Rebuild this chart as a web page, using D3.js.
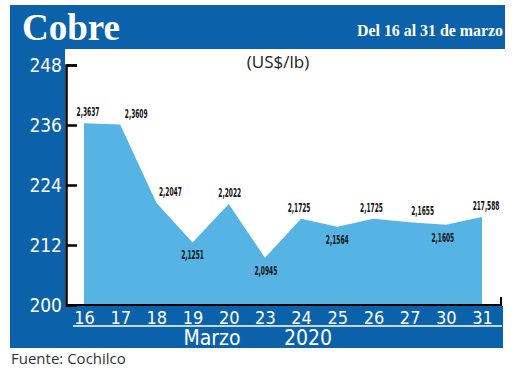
<!DOCTYPE html>
<html>
<head>
<meta charset="utf-8">
<script src="https://cdn.jsdelivr.net/npm/d3@7"></script>
<style>
  body { margin: 0; background: #fff; }
  svg { display: block; }
</style>
</head>
<body>
<div id="chart"></div>
<script>
var days = ['16', '17', '18', '19', '20', '23', '24', '25', '26', '27', '30', '31'];
var prices = [236.37, 236.09, 220.47, 212.51, 220.22, 209.45, 217.25, 215.64, 217.25, 216.55, 216.05, 217.588];
var priceLabels = ['2,3637', '2,3609', '2,2047', '2,1251', '2,2022', '2,0945', '2,1725', '2,1564', '2,1725', '2,1655', '2,1605', '217,588'];
var yTicks = [200, 212, 224, 236, 248];

var chartWidth = 520;
var chartHeight = 371;
var darkBlue = '#0b62aa';
var lightBlue = '#56b4e4';
var narrow = '"DejaVu Sans Condensed", sans-serif';

var svg = d3.select('#chart')
    .append('svg')
    .attr('width', chartWidth)
    .attr('height', chartHeight);

// Blue frame: header, left column, bottom band
svg.append('rect').attr('x', 10).attr('y', 5).attr('width', 495).attr('height', 44).attr('fill', darkBlue);
svg.append('rect').attr('x', 10).attr('y', 5).attr('width', 55).attr('height', 343).attr('fill', darkBlue);
svg.append('rect').attr('x', 10).attr('y', 306).attr('width', 493).attr('height', 42).attr('fill', darkBlue);

svg.append('text')
    .text('Cobre')
    .attr('x', 22).attr('y', 40)
    .attr('font-family', '"Liberation Serif", serif')
    .attr('font-weight', 'bold')
    .attr('font-size', 37)
    .attr('fill', '#fff');

svg.append('text')
    .text('Del 16 al 31 de marzo')
    .attr('x', 503).attr('y', 36)
    .attr('text-anchor', 'end')
    .attr('font-family', '"Liberation Serif", serif')
    .attr('font-weight', 'bold')
    .attr('font-size', 16)
    .attr('textLength', 146)
    .attr('lengthAdjust', 'spacingAndGlyphs')
    .attr('fill', '#fff');

svg.append('text')
    .text('(US$/lb)')
    .attr('x', 278).attr('y', 68)
    .attr('text-anchor', 'middle')
    .attr('font-family', '"Open Sans", sans-serif')
    .attr('font-size', 17)
    .attr('fill', '#222');

// Scales
var scaleX = d3.scalePoint()
    .domain(days)
    .range([84, 482]);

var scaleY = d3.scaleLinear()
    .domain([200, 248])
    .range([305, 65]);

// Area
var area = d3.area()
    .x(function(d, i) { return scaleX(days[i]); })
    .y0(scaleY(200))
    .y1(function(d) { return scaleY(d); });

svg.append('path')
    .datum(prices)
    .attr('d', area)
    .attr('fill', lightBlue);

// Y axis
var yAxis = svg.append('g')
    .attr('transform', 'translate(66,0)')
    .call(d3.axisLeft(scaleY).tickValues(yTicks).tickSize(-11).tickPadding(4));
yAxis.select('.domain').attr('stroke', '#000').attr('stroke-width', 2.5);
yAxis.selectAll('.tick line').attr('stroke', '#000').attr('stroke-width', 2.5);
yAxis.selectAll('.tick text')
    .attr('fill', '#fff')
    .attr('font-family', narrow)
    .attr('font-size', 19);

// X axis line with end tick
svg.append('path')
    .attr('d', 'M66,' + scaleY(200) + 'H501V297')
    .attr('fill', 'none')
    .attr('stroke', '#000')
    .attr('stroke-width', 2);

var xAxis = svg.append('g')
    .attr('transform', 'translate(0,306)')
    .call(d3.axisBottom(scaleX).tickSize(0).tickPadding(5));
xAxis.select('.domain').remove();
xAxis.selectAll('.tick text')
    .attr('fill', '#fff')
    .attr('font-family', narrow)
    .attr('font-size', 18);

svg.append('line')
    .attr('x1', 73).attr('x2', 502)
    .attr('y1', 326).attr('y2', 326)
    .attr('stroke', '#fff')
    .attr('stroke-width', 1.5);

svg.append('text')
    .text('Marzo')
    .attr('x', 212).attr('y', 345)
    .attr('text-anchor', 'middle')
    .attr('font-family', narrow)
    .attr('font-size', 21)
    .attr('fill', '#fff');

svg.append('text')
    .text('2020')
    .attr('x', 308).attr('y', 345)
    .attr('text-anchor', 'middle')
    .attr('font-family', narrow)
    .attr('font-size', 21)
    .attr('fill', '#fff');

// Value labels: below the point on local minima, above otherwise
var labelShift = [4, 16, 14, 0, 1, 1, -2, 0, -2, 13, -3, 4];
function isDip(i) {
  return i > 0 && i < prices.length - 1 && prices[i] < prices[i - 1] && prices[i] < prices[i + 1];
}

svg.selectAll('.value')
    .data(prices)
    .enter()
    .append('text')
    .attr('class', 'value')
    .text(function(d, i) { return priceLabels[i]; })
    .attr('x', function(d, i) { return scaleX(days[i]) + labelShift[i]; })
    .attr('y', function(d, i) { return isDip(i) ? scaleY(d) + 17 : scaleY(d) - 7; })
    .attr('text-anchor', 'middle')
    .attr('font-family', narrow)
    .attr('font-weight', 'bold')
    .attr('font-size', 13)
    .attr('textLength', function(d, i) { return priceLabels[i].length * 3.8; })
    .attr('lengthAdjust', 'spacingAndGlyphs')
    .attr('fill', '#111');

svg.append('text')
    .text('Fuente: Cochilco')
    .attr('x', 11).attr('y', 364)
    .attr('font-family', '"Open Sans", sans-serif')
    .attr('font-size', 15)
    .attr('fill', '#333');
</script>
</body>
</html>
